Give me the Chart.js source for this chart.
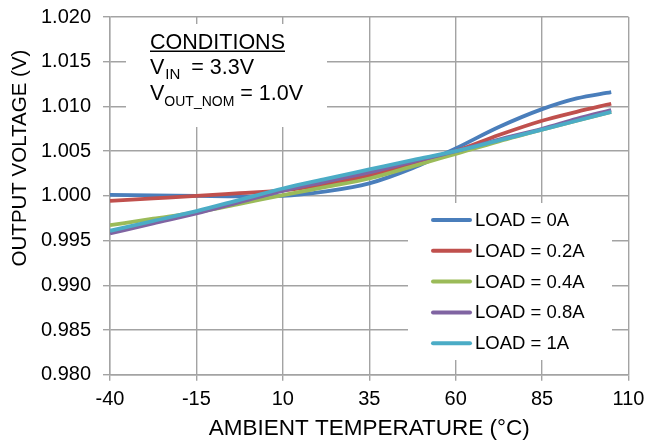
<!DOCTYPE html>
<html>
<head>
<meta charset="utf-8">
<script src="https://cdn.jsdelivr.net/npm/chart.js@4.4.1/dist/chart.umd.min.js"></script>
<style>
    html, body { margin: 0; padding: 0; background: #fff; }
    canvas { display: block; }
</style>
</head>
<body>
<canvas id="myChart" width="648" height="444"></canvas>
<script>
const temps = [-40, -27.5, -15, -2.5, 10, 22.5, 35, 47.5, 60, 72.5, 85, 95, 105];

const load0A   = [1.0001, 1.00005, 1.0000, 0.99995, 1.0000, 1.0005, 1.0014, 1.0031, 1.0053, 1.0077, 1.0097, 1.0109, 1.0116];
const load02A  = [0.99944, 0.99972, 1.0000, 1.0003, 1.0006, 1.0013, 1.0023, 1.0036, 1.0050, 1.0068, 1.0084, 1.0094, 1.0103];
const load04A  = [0.99672, 0.99744, 0.99815, 0.9991, 1.00008, 1.0010, 1.00194, 1.0033, 1.0047, 1.0061, 1.0074, 1.0084, 1.0094];
const load08A  = [0.99580, 0.99692, 0.99803, 0.9993, 1.00056, 1.0016, 1.00262, 1.0038, 1.0050, 1.0063, 1.0075, 1.0086, 1.0096];
const load1A   = [0.99609, 0.99719, 0.99829, 0.99955, 1.00082, 1.0019, 1.00295, 1.0040, 1.0050, 1.0062, 1.0074, 1.0084, 1.0094];

const seriesLabels = ['LOAD = 0A', 'LOAD = 0.2A', 'LOAD = 0.4A', 'LOAD = 0.8A', 'LOAD = 1A'];
const seriesColors = ['#4a7ebb', '#c0504d', '#9bbb59', '#8064a2', '#4bacc6'];

const xTicks = [-40, -15, 10, 35, 60, 85, 110];
const yMin = 0.980, yMax = 1.020, yStep = 0.005;

const FONT = "'Liberation Sans', Arial, sans-serif";
const GRID = '#a3a3a3';

function toPoints(values) {
    return temps.map((t, i) => ({ x: t, y: values[i] }));
}

const allSeries = [load0A, load02A, load04A, load08A, load1A];

// conditions note + legend, drawn inside the plot on white boxes
const notesPlugin = {
    id: 'notes',
    beforeDatasetsDraw(chart) {
        const c = chart.ctx;
        c.save();
        c.fillStyle = '#fff';
        c.fillRect(126, 24, 201, 103);
        c.fillRect(408, 203, 204, 157);

        c.fillStyle = '#000';
        c.textBaseline = 'alphabetic';
        c.textAlign = 'left';

        // CONDITIONS (underlined)
        c.font = '21.5px ' + FONT;
        c.fillText('CONDITIONS', 150, 48.5);
        const w = c.measureText('CONDITIONS').width;
        c.fillRect(150, 50.5, w, 1.5);

        // V_IN = 3.3V
        let x = 150;
        c.fillText('V', x, 73.5);
        x += c.measureText('V').width;
        c.font = '15px ' + FONT;
        c.fillText('IN', x + 1, 79);
        x += c.measureText('IN').width + 6;
        c.font = '21.5px ' + FONT;
        c.fillText(' = 3.3V', x, 73.5);

        // V_OUT_NOM = 1.0V
        x = 150;
        c.fillText('V', x, 100);
        x += c.measureText('V').width;
        c.font = '14px ' + FONT;
        c.fillText('OUT_NOM', x, 105.5);
        x += c.measureText('OUT_NOM').width;
        c.font = '21.5px ' + FONT;
        c.fillText(' = 1.0V', x, 100);

        // legend
        c.font = '18.5px ' + FONT;
        c.textBaseline = 'middle';
        c.lineCap = 'round';
        c.lineWidth = 4;
        seriesLabels.forEach((label, i) => {
            const y = 220 + i * 30.8;
            c.strokeStyle = seriesColors[i];
            c.beginPath();
            c.moveTo(433, y);
            c.lineTo(470, y);
            c.stroke();
            c.fillText(label, 475, y + 1);
        });

        // y axis title
        c.font = '20.5px ' + FONT;
        c.textAlign = 'center';
        c.translate(19, 158);
        c.rotate(-Math.PI / 2);
        c.fillText('OUTPUT VOLTAGE (V)', 0, 1);
        c.restore();
    }
};

const ctx = document.getElementById('myChart').getContext('2d');

const myChart = new Chart(ctx, {
    type: 'line',
    data: {
        datasets: allSeries.map((values, i) => ({
            label: seriesLabels[i],
            data: toPoints(values),
            borderColor: seriesColors[i],
            backgroundColor: seriesColors[i],
            borderWidth: 3.8,
            pointRadius: 0,
            cubicInterpolationMode: 'monotone',
            order: 5 - i
        }))
    },
    options: {
        responsive: false,
        animation: false,
        layout: {
            padding: { top: 17, right: 19.5, left: 0, bottom: 0 }
        },
        scales: {
            x: {
                type: 'linear',
                min: xTicks[0],
                max: xTicks[xTicks.length - 1],
                afterBuildTicks: (scale) => {
                    scale.ticks = xTicks.map(v => ({ value: v }));
                },
                afterFit: (scale) => {
                    scale.height = 69.3;
                    scale.paddingLeft = 0;
                    scale.paddingRight = 0;
                },
                ticks: {
                    color: '#000',
                    font: { family: FONT, size: 20 },
                    padding: 7,
                    maxRotation: 0
                },
                grid: { color: GRID, lineWidth: 1.4, tickLength: 6 },
                border: { color: GRID, width: 1.4 },
                title: {
                    display: true,
                    text: 'AMBIENT TEMPERATURE (°C)',
                    color: '#000',
                    font: { family: FONT, size: 22.5 },
                    padding: { top: 0, bottom: 2 }
                }
            },
            y: {
                min: yMin,
                max: yMax,
                afterFit: (scale) => {
                    scale.width = 110;
                    scale.paddingTop = 0;
                    scale.paddingBottom = 0;
                },
                ticks: {
                    stepSize: yStep,
                    color: '#000',
                    font: { family: FONT, size: 20 },
                    padding: 12,
                    callback: (v) => v.toFixed(3)
                },
                grid: { color: GRID, lineWidth: 1.4, tickLength: 7 },
                border: { color: GRID, width: 1.4 }
            }
        },
        plugins: {
            legend: { display: false },
            tooltip: { enabled: false }
        }
    },
    plugins: [notesPlugin]
});
</script>
</body>
</html>
